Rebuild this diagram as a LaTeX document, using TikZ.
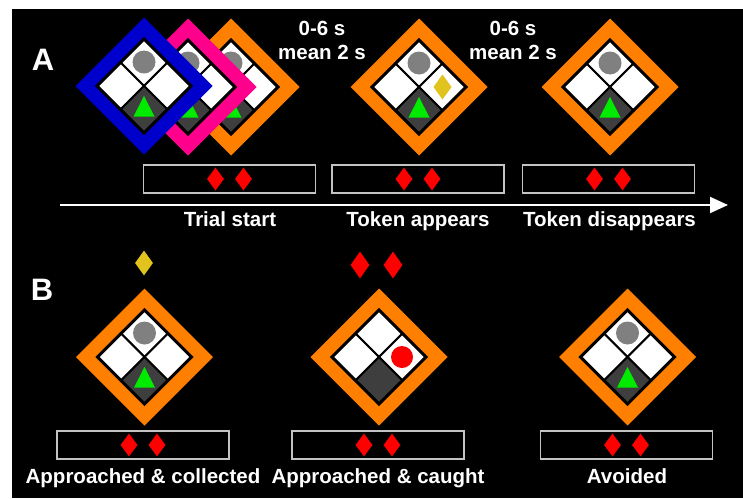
\documentclass[tikz,border=0pt]{standalone}
\usepackage{fontspec}
\setmainfont{Liberation Sans}
\usetikzlibrary{positioning,arrows.meta,shapes.geometric}
\definecolor{frameorange}{RGB}{255, 128, 0}
\definecolor{framepink}{RGB}{255, 0, 140}
\definecolor{frameblue}{RGB}{0, 0, 205}
\definecolor{cellgray}{RGB}{62, 62, 62}
\definecolor{predgray}{RGB}{128, 128, 128}
\definecolor{agentgreen}{RGB}{0, 235, 0}
\definecolor{tokenyellow}{RGB}{225, 195, 30}
\definecolor{barline}{RGB}{195, 195, 195}
\tikzset{
    arena/.pic={
        % Outer frame
        \fill[#1] (0,-68.5) -- (68.5,0) -- (0,68.5) -- (-68.5,0) -- cycle;
        % Cells: top, left, right, bottom
        \foreach \cx/\cy/\cc in {0/-23.5/white, -23.5/0/white, 23.5/0/white, 0/23.5/cellgray}
            \filldraw[fill=\cc, draw=black, line width=2pt]
                (\cx,\cy-23.5) -- (\cx+23.5,\cy) -- (\cx,\cy+23.5) -- (\cx-23.5,\cy) -- cycle;
        % Board edge
        \draw[black, line width=3pt, line join=miter]
            (0,-47) -- (47,0) -- (0,47) -- (-47,0) -- cycle;
    },
    pieces/.pic={
        % Predator (dormant) in top cell
        \fill[predgray] (0,-24) circle (11.5);
        % Agent in bottom cell
        \fill[agentgreen] (0,10) -- (10.5,30.5) -- (-10.5,30.5) -- cycle;
    },
    tokenpic/.pic={
        % Token in right cell
        \fill[tokenyellow] (23.5,-12.5) -- (32.5,0) -- (23.5,12.5) -- (14.5,0) -- cycle;
    },
    caughtpic/.pic={
        % Active predator in right cell
        \fill[red] (23,0) circle (11);
    }
}

\begin{document}
\begin{tikzpicture}[
    x=1pt, y=-1pt,
    tokenbar/.style={
        draw=barline,
        fill=black,
        line width=1.5pt,
        minimum width=172pt,
        minimum height=28pt,
        inner sep=0pt
    },
    gem/.style={
        diamond,
        fill=red,
        minimum width=17pt,
        minimum height=23pt,
        inner sep=0pt
    },
    biggem/.style={
        gem,
        minimum width=19pt,
        minimum height=27pt
    },
    yellowgem/.style={
        gem,
        fill=tokenyellow,
        minimum width=18pt,
        minimum height=25pt
    },
    steplabel/.style={
        anchor=base,
        text=white,
        font=\bfseries\fontsize{20.5}{24}\selectfont
    },
    timelabel/.style={
        align=center,
        text=white,
        font=\bfseries\fontsize{20.5}{24}\selectfont
    },
    panel/.style={
        anchor=base,
        text=white,
        font=\bfseries\fontsize{31}{36}\selectfont
    },
    timeline/.style={
        draw=white,
        line width=2pt,
        -{Triangle[length=18pt, width=16pt]}
    }
]

    % =========================================================================
    % 0. BACKGROUND
    % =========================================================================
    \useasboundingbox (0,0) rectangle (743,498);
    \fill[white] (0,0) rectangle (743,498);
    \fill[black] (12,9) rectangle (743,498);

    % =========================================================================
    % 1. PANEL A: TRIAL TIMELINE
    % =========================================================================
    \node[panel] (panelA) at (43,70) {A};

    % Trial start: stacked arenas (orange, pink, blue)
    \pic at (231,87) {arena=frameorange};
    \pic at (231,87) {pieces};
    \pic at (188,87) {arena=framepink};
    \pic at (188,87) {pieces};
    \pic at (144,86) {arena=frameblue};
    \pic at (144,86) {pieces};

    % Token appears
    \pic at (419,87) {arena=frameorange};
    \pic at (419,87) {pieces};
    \pic at (419,87) {tokenpic};

    % Token disappears
    \pic at (610,87) {arena=frameorange};
    \pic at (610,87) {pieces};

    % Delays
    \node[timelabel] (delay1) at (322,40) {0-6 s\\mean 2 s};
    \node[timelabel] (delay2) at (513,40) {0-6 s\\mean 2 s};

    % Token bars
    \node[tokenbar] (barstart) at (229.5,179) {};
    \node[tokenbar] (barappear) at (418,179) {};
    \node[tokenbar] (bargone) at (608.5,179) {};
    \foreach \b in {barstart, barappear, bargone} {
        \node[gem, xshift=-14pt] (\b-g1) at (\b) {};
        \node[gem, xshift=14pt] (\b-g2) at (\b) {};
    }

    % Time arrow
    \coordinate (tl-start) at (60,205);
    \coordinate (tl-end) at (728,205);
    \draw[timeline] (tl-start) -- (tl-end);

    \node[steplabel] (lblstart) at (230,226) {Trial start};
    \node[steplabel] (lblappear) at (418,226) {Token appears};
    \node[steplabel] (lblgone) at (609.5,226) {Token disappears};

    % =========================================================================
    % 2. PANEL B: OUTCOMES
    % =========================================================================
    \node[panel] (panelB) at (42,300) {B};

    % Approached & collected
    \node[yellowgem] (tokcollected) at (144,263) {};
    \pic at (144.5,357) {arena=frameorange};
    \pic at (144.5,357) {pieces};

    % Approached & caught
    \node[biggem] (lost1) at (360,265) {};
    \node[biggem] (lost2) at (393,265) {};
    \pic at (379,357) {arena=frameorange};
    \pic at (379,357) {caughtpic};

    % Avoided
    \pic at (627.5,357) {arena=frameorange};
    \pic at (627.5,357) {pieces};

    % Token bars
    \node[tokenbar] (barcollect) at (143,445) {};
    \node[tokenbar] (barcaught) at (378,445) {};
    \node[tokenbar] (baravoid) at (626.5,445) {};
    \foreach \b in {barcollect, barcaught, baravoid} {
        \node[gem, xshift=-14pt] (\b-g1) at (\b) {};
        \node[gem, xshift=14pt] (\b-g2) at (\b) {};
    }

    \node[steplabel] (lblcollect) at (143,483) {Approached \& collected};
    \node[steplabel] (lblcaught) at (378,483) {Approached \& caught};
    \node[steplabel] (lblavoid) at (627,483) {Avoided};

\end{tikzpicture}
\end{document}
